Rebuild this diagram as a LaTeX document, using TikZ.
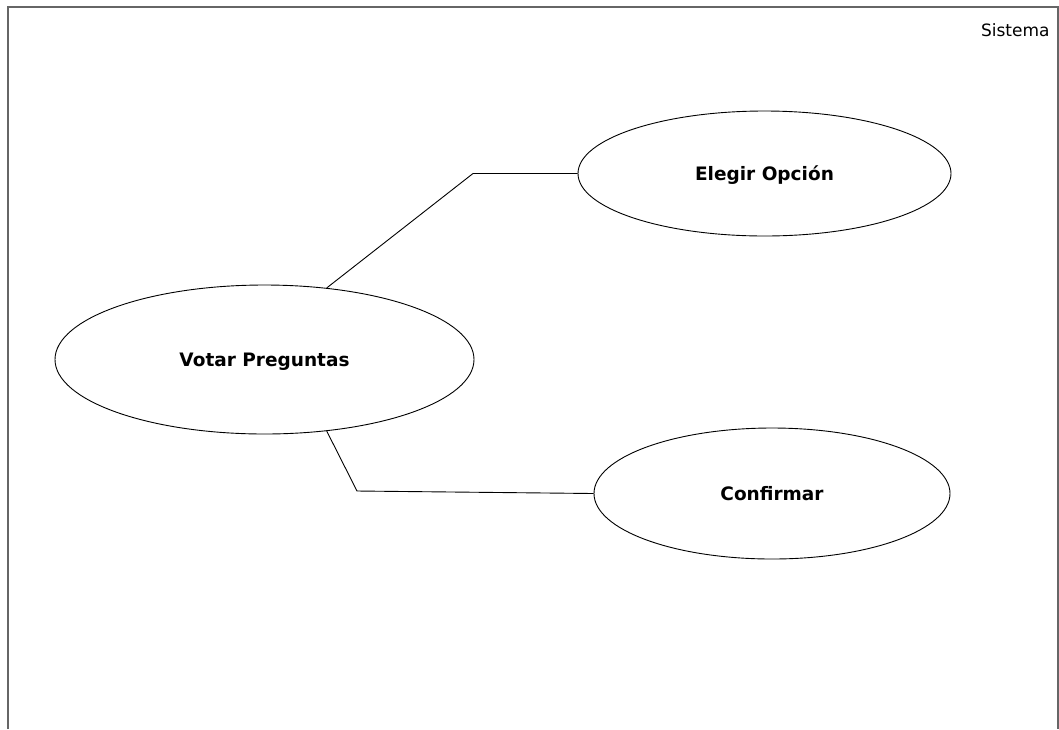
\documentclass[tikz,border=0pt]{standalone}
\usepackage{fontspec}
\setmainfont{DejaVu Sans}
\usetikzlibrary{shapes.geometric}
\begin{document}
\begin{tikzpicture}[x=1pt,y=-1pt,
  usecase/.style={draw=black,line width=0.9pt,ellipse,inner sep=0pt,
    text height=14pt,text depth=0pt,
    font=\fontsize{18.5}{22}\selectfont\bfseries},
  link/.style={draw=black,line width=0.9pt},
  frame/.style={draw=black!60,line width=1.8pt}]
\useasboundingbox (0,0) rectangle (1059,729);
% system boundary (open at the bottom)
\draw[frame] (8,729) -- (8,7) -- (1058,7) -- (1058,729);
\node[anchor=east,font=\fontsize{17}{20}\selectfont] (sistema) at (1053,30) {Sistema};
% use cases
\node[usecase,minimum width=419pt,minimum height=149pt] (votar) at (264.5,359.5) {Votar Preguntas};
\node[usecase,minimum width=373pt,minimum height=125pt] (elegir) at (764.5,173.5) {Elegir Opción};
\node[usecase,minimum width=356pt,minimum height=131pt] (confirmar) at (772,493.5) {Confirmar};
% bend points of the connectors
\coordinate (k1) at (473,173.5);
\coordinate (k2) at (357,491);
\draw[link] (votar.49) -- (k1) -- (elegir.west);
\draw[link] (votar.-49) -- (k2) -- (confirmar.west);
\end{tikzpicture}
\end{document}
